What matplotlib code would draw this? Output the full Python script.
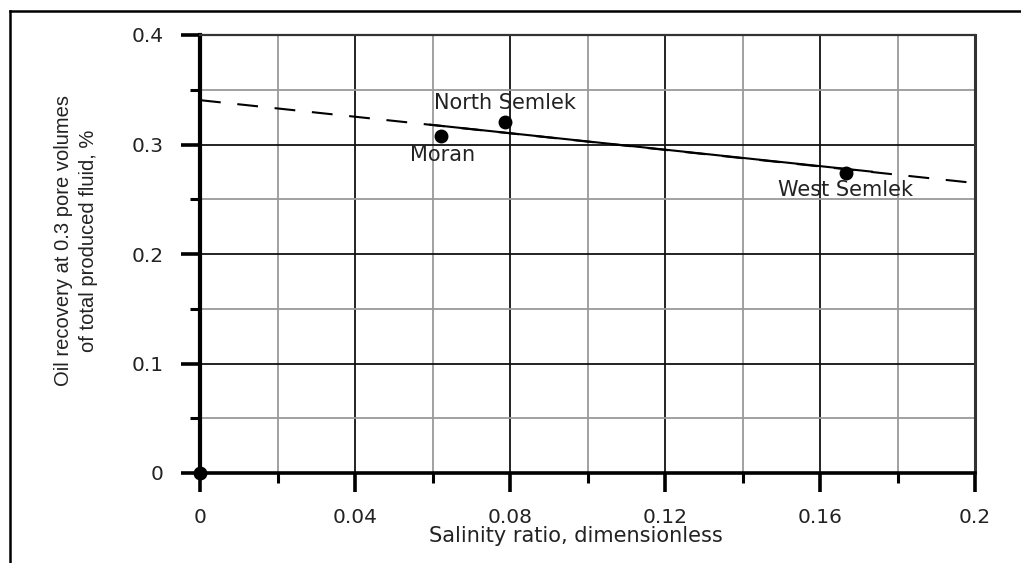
import matplotlib.pyplot as plt
from matplotlib.lines import Line2D
from matplotlib.ticker import MultipleLocator

plt.rcParams['font.family'] = ['DejaVu Sans']

# field data: salinity ratio vs. oil recovery
fields = ['Moran', 'North Semlek', 'West Semlek']
salinity = [0.0622, 0.0787, 0.1667]
recovery = [0.3078, 0.3205, 0.2740]
label_x = [0.0625, 0.0787, 0.1667]
label_y = [0.290, 0.338, 0.258]

origin_x = [0.0]
origin_y = [0.0]

# fitted trend: dashed extrapolation, solid over the data range
dash_x = [0.0, 0.2]
dash_y = [0.3405, 0.2648]
solid_x = [0.0594, 0.1734]
solid_y = [0.3181, 0.2752]

txt = '#222222'

fig = plt.figure(figsize=(10.21, 5.63), dpi=100)
ax = fig.add_axes([200/1021, 1 - 473/563, 775/1021, 438/563])

ax.set_xlim(0, 0.2)
ax.set_ylim(0, 0.4)
ax.xaxis.set_major_locator(MultipleLocator(0.04))
ax.xaxis.set_minor_locator(MultipleLocator(0.02))
ax.yaxis.set_major_locator(MultipleLocator(0.1))
ax.yaxis.set_minor_locator(MultipleLocator(0.05))
ax.set_xticks([0, 0.04, 0.08, 0.12, 0.16, 0.2])
ax.set_xticklabels(['0', '0.04', '0.08', '0.12', '0.16', '0.2'])
ax.set_yticks([0, 0.1, 0.2, 0.3, 0.4])
ax.set_yticklabels(['0', '0.1', '0.2', '0.3', '0.4'])

ax.grid(which='minor', color='#9a9a9a', lw=1.3, zorder=0)
ax.grid(which='major', color='#111111', lw=1.3, zorder=0)
ax.set_axisbelow(True)

ax.tick_params(which='major', direction='out', length=14, width=2.6,
               labelsize=14.5, labelcolor=txt, pad=11)
ax.tick_params(which='minor', direction='out', length=7, width=2.2)
ax.tick_params(axis='y', which='major', pad=12)

ax.spines['left'].set_linewidth(3)
ax.spines['bottom'].set_linewidth(2.6)
ax.spines['right'].set_linewidth(2.2)
ax.spines['right'].set_color('#333333')
ax.spines['top'].set_linewidth(1.6)
ax.spines['top'].set_color('#333333')

ax.plot(dash_x, dash_y, color='black', lw=1.5, ls=(0, (10, 8)), zorder=3)
ax.plot(solid_x, solid_y, color='black', lw=1.5, zorder=4)
ax.plot(salinity, recovery, 'o', color='black', ms=9, zorder=5, clip_on=False)
ax.plot(origin_x, origin_y, 'o', color='black', ms=9, zorder=5, clip_on=False)

for name, lx, ly in zip(fields, label_x, label_y):
    ax.text(lx, ly, name, ha='center', va='center', fontsize=15, color=txt, zorder=6)

ax.set_xlabel('Salinity ratio, dimensionless', fontsize=15, color=txt)
ax.xaxis.set_label_coords(0.485, -0.122)
ax.xaxis.label.set_va('top')

ax.set_ylabel('Oil recovery at 0.3 pore volumes\nof total produced fluid, %',
              fontsize=14.5, color=txt, linespacing=1.35, family='Liberation Sans')
ax.yaxis.set_label_coords(-0.132, 0.53)

# frame lines along the top and left edge of the figure
fig.add_artist(Line2D([10/1021, 1.0], [1 - 11/563, 1 - 11/563], color='black', lw=1.8))
fig.add_artist(Line2D([10/1021, 10/1021], [0.0, 1 - 11/563], color='black', lw=1.8))

fig.savefig('out.png', dpi=100)
